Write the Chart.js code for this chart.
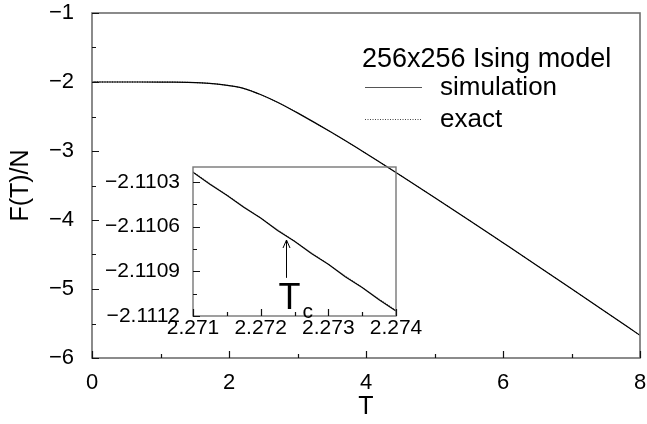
<!DOCTYPE html>
<html>
<head>
<meta charset="utf-8">
<script src="https://cdn.jsdelivr.net/npm/chart.js@4.4.0/dist/chart.umd.min.js"></script>
<style>
  html, body { margin: 0; padding: 0; background: #fff; }
  #wrap { position: relative; width: 647px; height: 424px; }
  #main { position: absolute; left: 0; top: 0; }
  #inset { position: absolute; left: 95px; top: 155px; }
</style>
</head>
<body>
<div id="wrap">
  <canvas id="main" width="647" height="424"></canvas>
  <canvas id="inset" width="340" height="185"></canvas>
</div>
<script>
// Free energy per spin of the 256x256 Ising model versus temperature
const temperature = [0, 0.5, 1.0, 1.2, 1.4, 1.6, 1.8, 2.0, 2.1, 2.2, 2.269, 2.35, 2.45, 2.6, 2.8, 3.0, 3.5, 4.0, 4.5, 5.0, 5.5, 6.0, 6.5, 7.0, 7.5, 8.0];
const freeEnergySim = [-2.0000, -2.0000, -2.0004, -2.0016, -2.0052, -2.0129, -2.0272, -2.0515, -2.0680, -2.0895, -2.1096, -2.1390, -2.1780, -2.2430, -2.3400, -2.4476, -2.7330, -3.0355, -3.3510, -3.6730, -3.9990, -4.3300, -4.6620, -4.9970, -5.3340, -5.6720];
const freeEnergyExact = [-2.0000, -2.0000, -2.0004, -2.0016, -2.0052, -2.0129, -2.0272, -2.0515, -2.0680, -2.0895, -2.1096, -2.1390, -2.1780, -2.2430, -2.3400, -2.4476, -2.7330, -3.0355, -3.3510, -3.6730, -3.9990, -4.3300, -4.6620, -4.9970, -5.3340, -5.6720];

// close-up around the critical temperature
const insetT = [2.27100, 2.27125, 2.27150, 2.27175, 2.27200, 2.27225, 2.27250, 2.27275, 2.27300, 2.27325, 2.27350, 2.27375, 2.27400];
const insetSim = [-2.110236, -2.110316, -2.110389, -2.110470, -2.110543, -2.110626, -2.110699, -2.110781, -2.110853, -2.110936, -2.111009, -2.111091, -2.111166];
const insetExact = [-2.110232, -2.110310, -2.110387, -2.110465, -2.110542, -2.110620, -2.110697, -2.110775, -2.110852, -2.110930, -2.111007, -2.111085, -2.111162];
const criticalT = 2.27237;

// axis ticks
const mainXTicks = [0, 2, 4, 6, 8];
const mainXMinor = [1, 3, 5, 7];
const mainYTicks = [-6, -5, -4, -3, -2, -1];
const mainYLabels = ['\u22126', '\u22125', '\u22124', '\u22123', '\u22122', '\u22121'];
const mainYMinor = [-5.5, -4.5, -3.5, -2.5, -1.5];
const insetXTicks = [2.271, 2.272, 2.273, 2.274];
const insetXLabels = ['2.271', '2.272', '2.273', '2.274'];
const insetXMinor = [2.2715, 2.2725, 2.2735];
const insetYTicks = [-2.1112, -2.1109, -2.1106, -2.1103];
const insetYLabels = ['\u22122.1112', '\u22122.1109', '\u22122.1106', '\u22122.1103'];
const insetYMinor = [-2.11105, -2.11075, -2.11045];

const legendTitle = '256x256 Ising model';
const FONT = '"Liberation Sans", Arial, Helvetica, sans-serif';

const pts = (xs, ys) => xs.map((x, i) => ({ x, y: ys[i] }));

// keep the plot area fixed: no extra room reserved for overhanging labels
const noOverhang = s => { s.paddingLeft = 0; s.paddingRight = 0; s.paddingTop = 0; s.paddingBottom = 0; };

// box around the plot plus inward major/minor tick marks on left and bottom
const frameTicks = {
  id: 'frameTicks',
  afterDatasetsDraw(chart, args, o) {
    const { ctx, chartArea: a, scales: { x, y } } = chart;
    ctx.save();
    ctx.strokeStyle = o.frameColor;
    ctx.lineWidth = o.frameWidth;
    ctx.strokeRect(a.left, a.top, a.right - a.left, a.bottom - a.top);
    ctx.strokeStyle = '#111';
    ctx.lineWidth = 1.2;
    ctx.beginPath();
    const xt = (vals, len) => vals.forEach(v => {
      const p = Math.round(x.getPixelForValue(v)) + 0.5;
      ctx.moveTo(p, a.bottom); ctx.lineTo(p, a.bottom - len);
    });
    const yt = (vals, len) => vals.forEach(v => {
      const p = Math.round(y.getPixelForValue(v)) + 0.5;
      ctx.moveTo(a.left, p); ctx.lineTo(a.left + len, p);
    });
    xt(o.xMajor, o.major); xt(o.xMinor, o.minor);
    yt(o.yMajor, o.major); yt(o.yMinor, o.minor);
    ctx.stroke();
    ctx.restore();
  }
};

// legend block in the upper right of the main plot
const legendBlock = {
  id: 'legendBlock',
  afterDraw(chart) {
    const { ctx } = chart;
    const ds = chart.data.datasets;
    ctx.save();
    ctx.fillStyle = '#000';
    ctx.font = '27px ' + FONT;
    ctx.textBaseline = 'alphabetic';
    ctx.fillText(legendTitle, 362, 67);
    ctx.font = '26px ' + FONT;
    ctx.strokeStyle = '#555';
    ctx.lineWidth = 1.2;
    ctx.beginPath(); ctx.moveTo(365, 87.5); ctx.lineTo(422, 87.5); ctx.stroke();
    ctx.fillText(ds[0].label, 440, 95);
    ctx.setLineDash([1, 1.5]);
    ctx.strokeStyle = '#444';
    ctx.lineWidth = 1;
    ctx.beginPath(); ctx.moveTo(365, 119.5); ctx.lineTo(422, 119.5); ctx.stroke();
    ctx.setLineDash([]);
    ctx.fillText(ds[1].label, 440, 127);
    ctx.restore();
  }
};

// arrow and label marking the critical temperature in the close-up
const tcMarker = {
  id: 'tcMarker',
  afterDraw(chart) {
    const { ctx, scales: { x, y } } = chart;
    const px = Math.round(x.getPixelForValue(criticalT)) + 0.5;
    const tip = y.getPixelForValue(-2.11069);
    const tail = y.getPixelForValue(-2.110944);
    ctx.save();
    ctx.strokeStyle = '#000';
    ctx.lineWidth = 1;
    ctx.beginPath();
    ctx.moveTo(px, tail); ctx.lineTo(px, tip);
    ctx.moveTo(px - 3.5, tip + 8); ctx.lineTo(px, tip); ctx.lineTo(px + 3.5, tip + 8);
    ctx.stroke();
    ctx.fillStyle = '#000';
    ctx.textBaseline = 'alphabetic';
    ctx.font = '36px ' + FONT;
    ctx.textAlign = 'center';
    ctx.fillText('T', px + 3, 154);
    ctx.textAlign = 'left';
    ctx.font = '21px ' + FONT;
    ctx.fillText('c', px + 16, 163);
    ctx.restore();
  }
};

const lineStyle = { borderColor: '#000', backgroundColor: '#000', pointRadius: 0, fill: false };

new Chart(document.getElementById('main'), {
  type: 'line',
  data: {
    datasets: [
      { label: 'simulation', data: pts(temperature, freeEnergySim), borderWidth: 1.2, cubicInterpolationMode: 'monotone', ...lineStyle },
      { label: 'exact', data: pts(temperature, freeEnergyExact), borderWidth: 1, borderDash: [1, 1.5], cubicInterpolationMode: 'monotone', ...lineStyle }
    ]
  },
  options: {
    responsive: false, animation: false, devicePixelRatio: 1,
    layout: { padding: { left: 0, top: 13, right: 7, bottom: 0 } },
    plugins: {
      legend: { display: false }, tooltip: { enabled: false },
      frameTicks: { frameColor: '#6e6e6e', frameWidth: 1.6, major: 7, minor: 4,
        xMajor: mainXTicks, xMinor: mainXMinor, yMajor: mainYTicks, yMinor: mainYMinor }
    },
    scales: {
      x: {
        type: 'linear', min: 0, max: 8,
        grid: { display: false, drawTicks: false }, border: { display: false },
        afterBuildTicks: s => { s.ticks = mainXTicks.map(v => ({ value: v })); },
        ticks: { color: '#000', font: { family: FONT, size: 22 }, padding: 12, maxRotation: 0, autoSkip: false },
        title: { display: true, text: 'T', color: '#000', font: { family: FONT, size: 25 }, padding: { top: 0, bottom: 2 } },
        afterFit: s => { s.height = 66; noOverhang(s); }
      },
      y: {
        type: 'linear', min: -6, max: -1,
        grid: { display: false, drawTicks: false }, border: { display: false },
        afterBuildTicks: s => { s.ticks = mainYTicks.map(v => ({ value: v })); },
        ticks: { color: '#000', font: { family: FONT, size: 22 }, padding: 18, autoSkip: false,
          callback: v => mainYLabels[mainYTicks.indexOf(v)] },
        title: { display: true, text: 'F(T)/N', color: '#000', font: { family: FONT, size: 25 }, padding: { top: 6, bottom: 0 } },
        afterFit: s => { s.width = 92; noOverhang(s); }
      }
    }
  },
  plugins: [frameTicks, legendBlock]
});

new Chart(document.getElementById('inset'), {
  type: 'line',
  data: {
    datasets: [
      { label: 'simulation', data: pts(insetT, insetSim), borderWidth: 1.2, tension: 0, ...lineStyle },
      { label: 'exact', data: pts(insetT, insetExact), borderWidth: 1, borderDash: [1, 1.5], tension: 0, ...lineStyle, borderColor: '#555' }
    ]
  },
  options: {
    responsive: false, animation: false, devicePixelRatio: 1,
    layout: { padding: { left: 0, top: 12, right: 39, bottom: 0 } },
    plugins: {
      legend: { display: false }, tooltip: { enabled: false },
      frameTicks: { frameColor: '#777', frameWidth: 1.4, major: 7, minor: 4,
        xMajor: insetXTicks, xMinor: insetXMinor, yMajor: insetYTicks, yMinor: insetYMinor }
    },
    scales: {
      x: {
        type: 'linear', min: 2.271, max: 2.274,
        grid: { display: false, drawTicks: false }, border: { display: false },
        afterBuildTicks: s => { s.ticks = insetXTicks.map(v => ({ value: v })); },
        ticks: { color: '#000', font: { family: FONT, size: 21 }, padding: 0, maxRotation: 0, autoSkip: false,
          callback: (v, i) => insetXLabels[i] },
        afterFit: s => { s.height = 24; noOverhang(s); }
      },
      y: {
        type: 'linear', min: -2.1112, max: -2.1102,
        grid: { display: false, drawTicks: false }, border: { display: false },
        afterBuildTicks: s => { s.ticks = insetYTicks.map(v => ({ value: v })); },
        ticks: { color: '#000', font: { family: FONT, size: 21 }, padding: 13, autoSkip: false,
          callback: (v, i) => insetYLabels[i] },
        afterFit: s => { s.width = 98; noOverhang(s); }
      }
    }
  },
  plugins: [frameTicks, tcMarker]
});
</script>
</body>
</html>
